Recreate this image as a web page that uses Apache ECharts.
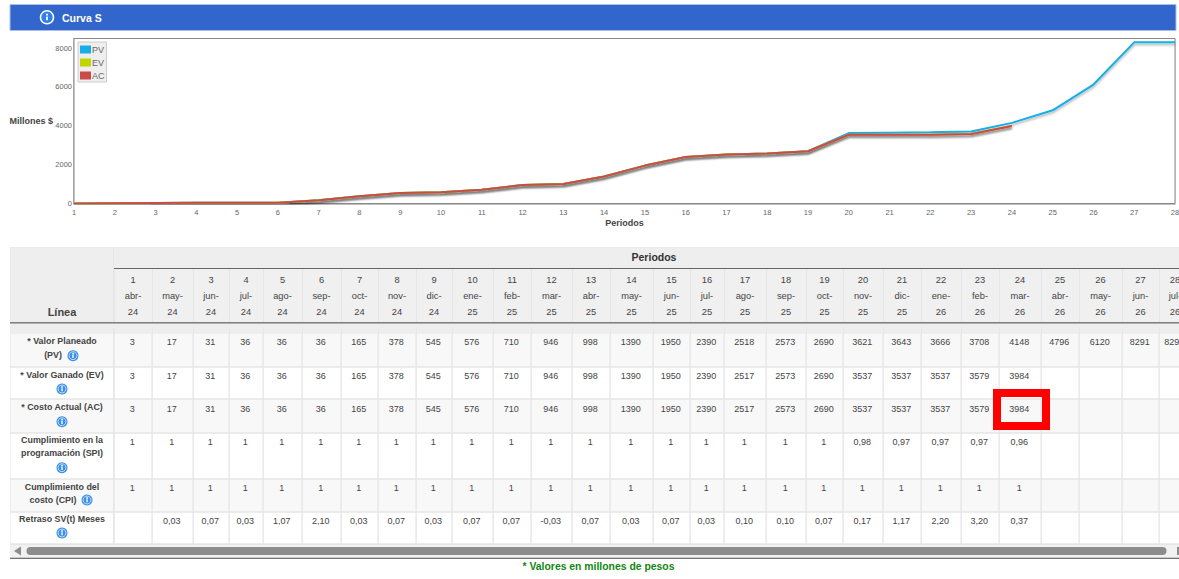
<!DOCTYPE html>
<html><head><meta charset="utf-8">
<script src="https://cdn.jsdelivr.net/npm/echarts@6/dist/echarts.min.js"></script>
<style>html,body{margin:0;padding:0;background:#fff;overflow:hidden}#c{width:1179px;height:579px}</style>
</head><body><div id="c"></div>
<script>
// ---------- data ----------
const periods = [1,2,3,4,5,6,7,8,9,10,11,12,13,14,15,16,17,18,19,20,21,22,23,24,25,26,27,28];
const months = ['abr-','may-','jun-','jul-','ago-','sep-','oct-','nov-','dic-','ene-','feb-','mar-','abr-','may-','jun-','jul-','ago-','sep-','oct-','nov-','dic-','ene-','feb-','mar-','abr-','may-','jun-','jul-'];
const years = ['24','24','24','24','24','24','24','24','24','25','25','25','25','25','25','25','25','25','25','25','25','26','26','26','26','26','26','26'];
const pv = [3,17,31,36,36,36,165,378,545,576,710,946,998,1390,1950,2390,2518,2573,2690,3621,3643,3666,3708,4148,4796,6120,8291,8291];
const ev = [3,17,31,36,36,36,165,378,545,576,710,946,998,1390,1950,2390,2517,2573,2690,3537,3537,3537,3579,3984];
const ac = [3,17,31,36,36,36,165,378,545,576,710,946,998,1390,1950,2390,2517,2573,2690,3537,3537,3537,3579,3984];
const spi = ['1','1','1','1','1','1','1','1','1','1','1','1','1','1','1','1','1','1','1','0,98','0,97','0,97','0,97','0,96'];
const cpi = ['1','1','1','1','1','1','1','1','1','1','1','1','1','1','1','1','1','1','1','1','1','1','1','1'];
const sv = ['','0,03','0,07','0,03','1,07','2,10','0,03','0,07','0,03','0,07','0,07','-0,03','0,07','0,03','0,07','0,03','0,10','0,10','0,07','0,17','1,17','2,20','3,20','0,37'];
const rowLabels = [['* Valor Planeado','(PV)'],['* Valor Ganado (EV)'],['* Costo Actual (AC)'],['Cumplimiento en la','programación (SPI)'],['Cumplimiento del','costo (CPI)'],['Retraso SV(t) Meses']];

// ---------- table layout ----------
const FONT = '"Liberation Sans", Arial, sans-serif';
const colEdges = [114,152,193,229,263,302,341,378,416,452,493,531,572,610,653,690,724,766,806,843,883,921,961,999,1041,1079,1122,1159,1191];
const rowEdges = [334,367,399,433,479,512,544];
const rowTextY = [342,376,408.5,442,488,520.5];
const labelY = [[341,355],[374.7],[407.3],[440,452.7],[486.7,500],[519]];
const iconPos = [[73,355.7],[62,389],[62,421.7],[62,467.7],[87,500],[62,533]];
const labelX = [[62,53],[62],[62],[62,62],[62,53],[62]];
const bodyRows = [pv,ev,ac,spi,cpi,sv];
const INK = '#444';

// one item per drawn cell, built from the arrays above
const cells = [];
cells.push({k:'base'});
periods.forEach((p,c)=>cells.push({k:'head',c}));
bodyRows.forEach((vals,r)=>{
  cells.push({k:'label',r});
  periods.forEach((p,c)=>cells.push({k:'body',r,c,t:vals[c]===undefined||vals[c]===null?'':String(vals[c])}));
});

function tableItem(params, api){
  const d = cells[params.dataIndex];
  const P = (x,y)=>api.coord([x,y]);
  const R = (x0,y0,x1,y1,fill)=>{const a=P(x0,y0),b=P(x1,y1);return {type:'rect',shape:{x:a[0],y:a[1],width:b[0]-a[0],height:b[1]-a[1]},style:{fill},silent:true};};
  const T = (x,y,text,font,fill)=>{const a=P(x,y);return {type:'text',style:{x:a[0],y:a[1],text,font,fill:fill||INK,align:'center',verticalAlign:'middle'},silent:true};};
  const ch = [];
  if(d.k==='base'){
    ch.push(R(10,247,1179,545,'#e6e6e6'));
    ch.push(R(10.5,247.5,113,322.5,'#eeeeee'));
    ch.push(R(114,247.5,1179,268,'#eeeeee'));
    ch.push(R(114,268,1179,269,'#666666'));
    ch.push(R(10,322,1179,323.7,'#808080'));
    ch.push(R(10,323.7,1179,328,'#eeeeee'));
    ch.push(R(10,328,113,334,'#eeeeee'));
    ch.push(T(62,311.7,'Línea','bold 11px '+FONT));
    ch.push(T(654,257,'Periodos','bold 10.5px '+FONT,'#333'));
  } else if(d.k==='head'){
    const x0=colEdges[d.c],x1=colEdges[d.c+1],m=(x0+x1)/2;
    ch.push(R(x0+1,269,x1,322,'#f0f0f0'));
    ch.push(R(x0+1,328,x1,334,'#eeeeee'));
    ch.push(T(m,280,String(periods[d.c]),'9.3px '+FONT));
    ch.push(T(m,296,months[d.c],'9.3px '+FONT));
    ch.push(T(m,312,years[d.c],'9.3px '+FONT));
  } else {
    const y0=rowEdges[d.r]+(d.r?0.7:0),y1=rowEdges[d.r+1]-0.7,fill=d.r%2?'#ffffff':'#f8f8f8';
    if(d.k==='label'){
      ch.push(R(10.5,y0,113,y1,fill));
      rowLabels[d.r].forEach((s,i)=>ch.push(T(labelX[d.r][i],labelY[d.r][i],s,'bold 8.9px '+FONT)));
    } else {
      const x0=colEdges[d.c],x1=colEdges[d.c+1];
      ch.push(R(x0+0.8,y0,x1-0.6,y1,fill));
      if(d.t) ch.push(T((x0+x1)/2-0.7,rowTextY[d.r],d.t,'9px '+FONT));
    }
  }
  return {type:'group',children:ch};
}

function icon(cx,cy,r,big){
  const blue = big ? '#2f80ea' : '#3a8fe6';
  const Z = 100;
  return {type:'group',silent:true,children:[
    {type:'circle',z:Z,shape:{cx,cy,r},style:{fill:big?'#ffffff':blue}},
    {type:'circle',z:Z+1,shape:{cx,cy,r:r*(big?0.78:0.72)},style:{fill:blue,stroke:big?'none':'#cfe4fa',lineWidth:big?0:0.9}},
    {type:'circle',z:Z+2,shape:{cx,cy:cy-r*0.36,r:r*0.12+0.2},style:{fill:'#fff'}},
    {type:'rect',z:Z+2,shape:{x:cx-r*0.09-0.2,y:cy-r*0.12,width:r*0.18+0.4,height:r*0.52},style:{fill:'#fff'}}
  ]};
}
const hi0 = colEdges[23], hi1 = colEdges[24];
const graphics = [
  {type:'rect',z:90,silent:true,shape:{x:10,y:4.5,width:1166,height:26},style:{fill:'#3366cc',stroke:'#a9bfe8',lineWidth:1}},
  icon(47,17.3,7.3,true),
  {type:'text',z:100,silent:true,style:{x:62,y:17.5,text:'Curva S',font:'bold 10.5px '+FONT,fill:'#fff',verticalAlign:'middle'}},
  {type:'rect',z:100,silent:true,shape:{x:hi0-2,y:393,width:hi1-hi0+7,height:33},style:{fill:'none',stroke:'#ff0000',lineWidth:8}},
  {type:'rect',z:90,silent:true,shape:{x:10,y:545,width:1169,height:12.5},style:{fill:'#f1f1f1'}},
  {type:'polygon',z:100,silent:true,shape:{points:[[14,551],[21,546.5],[21,555.5]]},style:{fill:'#8c8c8c'}},
  {type:'rect',z:100,silent:true,shape:{x:26.5,y:547,width:1140,height:8,r:4},style:{fill:'#8c8c8c'}},
  {type:'rect',z:100,silent:true,shape:{x:1177,y:547,width:2,height:8},style:{fill:'#8c8c8c'}},
  {type:'rect',z:100,silent:true,shape:{x:10,y:557.7,width:1169,height:1},style:{fill:'#444'}},
  {type:'text',z:100,silent:true,style:{x:598.5,y:566.5,text:'* Valores en millones de pesos',font:'bold 10.4px '+FONT,fill:'#118811',align:'center',verticalAlign:'middle'}}
].concat(iconPos.map(p=>icon(p[0],p[1],5.5,false)));

const lineShadow = {shadowColor:'rgba(0,0,0,0.32)',shadowBlur:2.5,shadowOffsetY:2};
const chart = echarts.init(document.getElementById('c'),null,{renderer:'svg'});
chart.setOption({
  animation:false,
  backgroundColor:'#fff',
  textStyle:{fontFamily:FONT},
  graphic:{elements:graphics},
  legend:{
    orient:'vertical',left:78,top:42,padding:[3,2,2,2],itemGap:4,itemWidth:11,itemHeight:8,icon:'rect',
    backgroundColor:'#eeeeee',borderColor:'#cccccc',borderWidth:1,
    textStyle:{fontSize:9,color:'#666',fontFamily:FONT,padding:[0,0,0,-4]},
    data:['PV','EV','AC'],selectedMode:false,z:20
  },
  grid:[
    {left:74,right:4,top:38.5,bottom:375.5,outerBoundsMode:'none',show:true,borderColor:'#888',borderWidth:1,backgroundColor:'#fff',z:3},
    {left:0,right:0,top:0,bottom:0,outerBoundsMode:'none',show:false}
  ],
  xAxis:[
    {type:'value',gridIndex:0,min:1,max:28,interval:1,name:'Periodos',nameLocation:'middle',nameGap:15,
     nameTextStyle:{fontWeight:'bold',fontSize:9,color:'#444',fontFamily:FONT},
     axisLine:{show:true,lineStyle:{color:'#aaa',width:1.5}},axisTick:{show:false},
     axisLabel:{fontSize:7.5,color:'#666',margin:5,fontFamily:FONT,hideOverlap:false},
     splitLine:{show:true,lineStyle:{color:'#e6e6e6',width:1.2}}},
    {type:'value',gridIndex:1,min:0,max:1179,show:false,splitLine:{show:false}}
  ],
  yAxis:[
    {type:'value',gridIndex:0,min:0,max:8489,interval:2000,name:'Millones $',nameLocation:'middle',nameRotate:0,nameGap:21,nameMoveOverlap:false,
     nameTextStyle:{fontWeight:'bold',fontSize:9,color:'#444',fontFamily:FONT},
     axisLine:{show:true,lineStyle:{color:'#aaa',width:1.5}},axisTick:{show:false},
     axisLabel:{fontSize:7.5,color:'#666',margin:2,showMaxLabel:false,fontFamily:FONT,formatter:v=>String(v)},
     splitLine:{show:true,showMaxLine:false,lineStyle:{color:'#e6e6e6',width:1.2}}},
    {type:'value',gridIndex:1,min:0,max:579,inverse:true,show:false,splitLine:{show:false}}
  ],
  series:[
    {type:'custom',name:'Tabla',xAxisIndex:1,yAxisIndex:1,coordinateSystem:'cartesian2d',clip:false,silent:true,z:1,
     encode:{x:0,y:1},data:cells.map(()=>[0,0]),renderItem:tableItem},
    {type:'line',name:'PV',xAxisIndex:0,yAxisIndex:0,z:5,symbol:'none',color:'#16aee6',
     lineStyle:Object.assign({width:2,color:'#16aee6'},lineShadow),data:pv.map((v,i)=>[periods[i],v])},
    {type:'line',name:'EV',xAxisIndex:0,yAxisIndex:0,z:6,symbol:'none',color:'#c2d500',
     lineStyle:Object.assign({width:2,color:'#c2d500'},lineShadow),data:ev.map((v,i)=>[periods[i],v])},
    {type:'line',name:'AC',xAxisIndex:0,yAxisIndex:0,z:7,symbol:'none',color:'#cb4b4b',
     lineStyle:Object.assign({width:2,color:'#cb4b4b'},lineShadow),data:ac.map((v,i)=>[periods[i],v])}
  ]
});
</script></body></html>
